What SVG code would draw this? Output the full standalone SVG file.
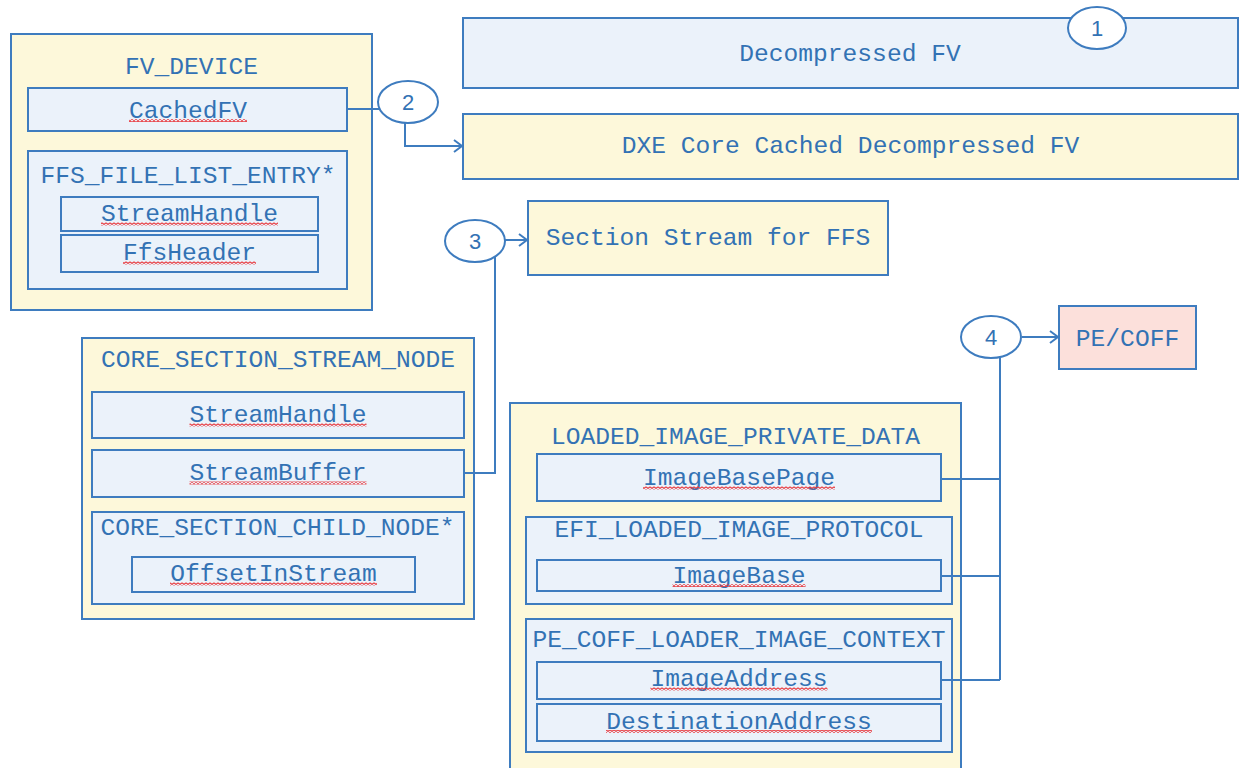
<svg xmlns="http://www.w3.org/2000/svg" width="1241" height="768" viewBox="0 0 1241 768">
<style>
.y{fill:#FDF8DA;stroke:#3E7CBF;stroke-width:2}
.b{fill:#EBF2FA;stroke:#3E7CBF;stroke-width:2}
.p{fill:#FCE0DB;stroke:#3E7CBF;stroke-width:2}
.c{fill:#FFFFFF;stroke:#3E7CBF;stroke-width:2}
.t{font-family:"Liberation Mono","Courier New",monospace;font-size:24.6px;fill:#3372B4;text-anchor:middle}
.n{font-family:"Liberation Sans",Arial,sans-serif;font-size:22px;fill:#3372B4;text-anchor:middle}
.l{fill:none;stroke:#3E7CBF;stroke-width:2}
.s{fill:url(#sq)}
</style>
<defs>
<marker id="ah" markerWidth="12" markerHeight="14" refX="10" refY="7" orient="auto" markerUnits="userSpaceOnUse">
<polyline points="2,1 10,7 2,13" fill="none" stroke="#3E7CBF" stroke-width="2"/>
</marker>
<pattern id="sq" width="4" height="3" patternUnits="userSpaceOnUse">
<polyline points="0,2.5 2,0.5 4,2.5" fill="none" stroke="#E8383D" stroke-width="1.1"/>
</pattern>
</defs>

<g id="decompressed-fv">
<rect class="b" x="463" y="18" width="775" height="70"/>
<text class="t" x="850" y="61">Decompressed FV</text>
</g>
<g id="dxe-cached">
<rect class="y" x="463" y="114" width="775" height="65"/>
<text class="t" x="850.5" y="153">DXE Core Cached Decompressed FV</text>
</g>
<g id="section-stream">
<rect class="y" x="528" y="201" width="360" height="74"/>
<text class="t" x="708" y="245">Section Stream for FFS</text>
</g>
<g id="pecoff">
<rect class="p" x="1059" y="306" width="137" height="63"/>
<text class="t" x="1127.5" y="346">PE/COFF</text>
</g>

<g id="fv-device">
<rect class="y" x="11" y="34" width="361" height="276"/>
<text class="t" x="191.5" y="74">FV_DEVICE</text>
<rect class="b" x="28" y="88" width="319" height="43"/>
<text class="t" x="188" y="117.5">CachedFV</text>
<rect class="s" x="129" y="119" width="118" height="3"/>
<rect class="b" x="28" y="151" width="319" height="138"/>
<text class="t" x="188" y="183">FFS_FILE_LIST_ENTRY*</text>
<rect class="b" x="61" y="197" width="257" height="34"/>
<text class="t" x="189.5" y="221">StreamHandle</text>
<rect class="s" x="101" y="222.5" width="177" height="3"/>
<rect class="b" x="61" y="235" width="257" height="37"/>
<text class="t" x="189.5" y="260">FfsHeader</text>
<rect class="s" x="123" y="261.5" width="133" height="3"/>
</g>

<g id="core-section-stream-node">
<rect class="y" x="82" y="338" width="392" height="281"/>
<text class="t" x="278" y="367">CORE_SECTION_STREAM_NODE</text>
<rect class="b" x="92" y="392" width="372" height="46"/>
<text class="t" x="278" y="422">StreamHandle</text>
<rect class="s" x="189.5" y="423.5" width="177" height="3"/>
<rect class="b" x="92" y="450" width="372" height="47"/>
<text class="t" x="278" y="480">StreamBuffer</text>
<rect class="s" x="189.5" y="481.5" width="177" height="3"/>
<rect class="b" x="92" y="512" width="372" height="92"/>
<text class="t" x="277.5" y="535">CORE_SECTION_CHILD_NODE*</text>
<rect class="b" x="132" y="557" width="283" height="35"/>
<text class="t" x="273.5" y="581">OffsetInStream</text>
<rect class="s" x="170" y="582.5" width="207" height="3"/>
</g>

<g id="loaded-image-private-data">
<rect class="y" x="510" y="403" width="451" height="370"/>
<text class="t" x="735.5" y="444">LOADED_IMAGE_PRIVATE_DATA</text>
<rect class="b" x="537" y="454" width="404" height="47"/>
<text class="t" x="739" y="485">ImageBasePage</text>
<rect class="s" x="643" y="486.5" width="192" height="3"/>
<rect class="b" x="526" y="517" width="426" height="87"/>
<text class="t" x="739" y="537">EFI_LOADED_IMAGE_PROTOCOL</text>
<rect class="b" x="537" y="560" width="404" height="31"/>
<text class="t" x="739" y="582.5">ImageBase</text>
<rect class="s" x="672.5" y="584" width="133" height="3"/>
<rect class="b" x="526" y="619" width="426" height="133"/>
<text class="t" x="739" y="647">PE_COFF_LOADER_IMAGE_CONTEXT</text>
<rect class="b" x="537" y="662" width="404" height="37"/>
<text class="t" x="739" y="686">ImageAddress</text>
<rect class="s" x="650.5" y="687.5" width="177" height="3"/>
<rect class="b" x="537" y="704" width="404" height="37"/>
<text class="t" x="739" y="728.5">DestinationAddress</text>
<rect class="s" x="606" y="730" width="266" height="3"/>
</g>

<g id="connectors">
<path class="l" d="M347,109 H379"/>
<path class="l" d="M405,123 V146 H462" marker-end="url(#ah)"/>
<path class="l" d="M505,240 H527" marker-end="url(#ah)"/>
<path class="l" d="M495,256 V473 H464"/>
<path class="l" d="M1022,337 H1058" marker-end="url(#ah)"/>
<path class="l" d="M1000,358 V680"/>
<path class="l" d="M941,479 H1000"/>
<path class="l" d="M941,576 H1000"/>
<path class="l" d="M941,680 H1000"/>
</g>

<g id="marker-1">
<ellipse class="c" cx="1097" cy="28" rx="29" ry="21"/>
<text class="n" x="1097" y="36">1</text>
</g>
<g id="marker-2">
<ellipse class="c" cx="408" cy="102" rx="30" ry="21"/>
<text class="n" x="408" y="110">2</text>
</g>
<g id="marker-3">
<ellipse class="c" cx="475" cy="241" rx="30" ry="21"/>
<text class="n" x="475" y="249">3</text>
</g>
<g id="marker-4">
<ellipse class="c" cx="991" cy="337" rx="30" ry="21"/>
<text class="n" x="991" y="345">4</text>
</g>
</svg>
